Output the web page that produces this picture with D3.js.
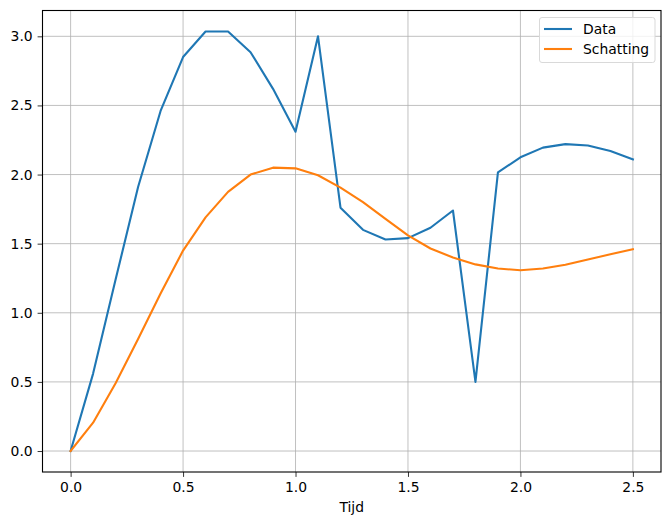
<!DOCTYPE html>
<html>
<head>
<meta charset="utf-8">
<script src="https://cdn.jsdelivr.net/npm/d3@7"></script>
<style>
  body { margin: 0; background: #fff; }
  svg text { font-family: "DejaVu Sans", sans-serif; }
</style>
</head>
<body>
<div id="chart"></div>
<script>
var tijd = [0, 0.1, 0.2, 0.3, 0.4, 0.5, 0.6, 0.7, 0.8, 0.9, 1.0, 1.1, 1.2,
            1.3, 1.4, 1.5, 1.6, 1.7, 1.8, 1.9, 2.0, 2.1, 2.2, 2.3, 2.4, 2.5];
var data = [0, 0.56, 1.24, 1.91, 2.46, 2.85, 3.035, 3.035, 2.885, 2.62, 2.31, 3.0, 1.76,
            1.60, 1.53, 1.54, 1.615, 1.74, 0.50, 2.015, 2.125, 2.195, 2.22, 2.21, 2.17, 2.11];
var schatting = [0, 0.205, 0.49, 0.81, 1.14, 1.45, 1.69, 1.875, 2.0, 2.05, 2.045, 1.995, 1.905,
                 1.80, 1.68, 1.56, 1.465, 1.40, 1.35, 1.32, 1.308, 1.32, 1.347, 1.385, 1.423, 1.46];
var xTicks = [0, 0.5, 1.0, 1.5, 2.0, 2.5];
var yTicks = [0, 0.5, 1.0, 1.5, 2.0, 2.5, 3.0];
var series = [
  {name: "Data", values: data, color: "#1f77b4"},
  {name: "Schatting", values: schatting, color: "#ff7f0e"}
];

var W = 671, H = 525;
var margin = {top: 10.5, right: 10, bottom: 53, left: 42.5},
    width = W - margin.left - margin.right,
    height = H - margin.top - margin.bottom;

var svg = d3.select("#chart").append("svg")
    .attr("width", W)
    .attr("height", H);

var g = svg.append("g")
    .attr("transform", "translate(" + margin.left + "," + margin.top + ")");

var x = d3.scaleLinear().domain([-0.125, 2.625]).range([0, width]);
var y = d3.scaleLinear().domain([-0.15175, 3.18675]).range([height, 0]);

// grid
g.append("g").selectAll("line").data(xTicks).enter().append("line")
    .attr("x1", function(d) { return x(d); })
    .attr("x2", function(d) { return x(d); })
    .attr("y1", 0).attr("y2", height)
    .attr("stroke", "#b0b0b0").attr("stroke-width", 0.8);
g.append("g").selectAll("line").data(yTicks).enter().append("line")
    .attr("y1", function(d) { return y(d); })
    .attr("y2", function(d) { return y(d); })
    .attr("x1", 0).attr("x2", width)
    .attr("stroke", "#b0b0b0").attr("stroke-width", 0.8);

var xAxis = d3.axisBottom(x).tickValues(xTicks).tickFormat(d3.format(".1f")).tickSize(4.9).tickPadding(4.9);
var yAxis = d3.axisLeft(y).tickValues(yTicks).tickFormat(d3.format(".1f")).tickSize(4.9).tickPadding(4.9);

var gx = g.append("g").attr("transform", "translate(0," + height + ")").call(xAxis);
var gy = g.append("g").call(yAxis);
[gx, gy].forEach(function(a) {
  a.select(".domain").remove();
  a.selectAll(".tick line").attr("stroke", "#000").attr("stroke-width", 0.8);
  a.selectAll(".tick text").attr("fill", "#000").style("font-size", "13.9px");
});

var line = d3.line()
    .x(function(d, i) { return x(tijd[i]); })
    .y(function(d) { return y(d); });

series.forEach(function(s) {
  g.append("path")
      .datum(s.values)
      .attr("fill", "none")
      .attr("stroke", s.color)
      .attr("stroke-width", 2.1)
      .attr("stroke-linejoin", "round")
      .attr("stroke-linecap", "square")
      .attr("d", line);
});

// frame
g.append("rect")
    .attr("width", width).attr("height", height)
    .attr("fill", "none").attr("stroke", "#000").attr("stroke-width", 1.1);

g.append("text")
    .attr("x", width / 2)
    .attr("y", height + 40)
    .attr("text-anchor", "middle")
    .style("font-size", "13.9px")
    .text("Tijd");

// legend
var lg = g.append("g").attr("transform", "translate(" + (539.5 - margin.left) + "," + (17.5 - margin.top) + ")");
lg.append("rect")
    .attr("width", 115.5).attr("height", 45)
    .attr("rx", 2.5)
    .attr("fill", "#fff").attr("fill-opacity", 0.8)
    .attr("stroke", "#d9d9d9").attr("stroke-width", 1);
series.forEach(function(s, i) {
  var yy = 11.5 + i * 20;
  lg.append("line")
      .attr("x1", 4.5).attr("x2", 32.5)
      .attr("y1", yy).attr("y2", yy)
      .attr("stroke", s.color).attr("stroke-width", 2.1);
  lg.append("text")
      .attr("x", 43.5).attr("y", yy + 5)
      .style("font-size", "13.9px")
      .text(s.name);
});
</script>
</body>
</html>
